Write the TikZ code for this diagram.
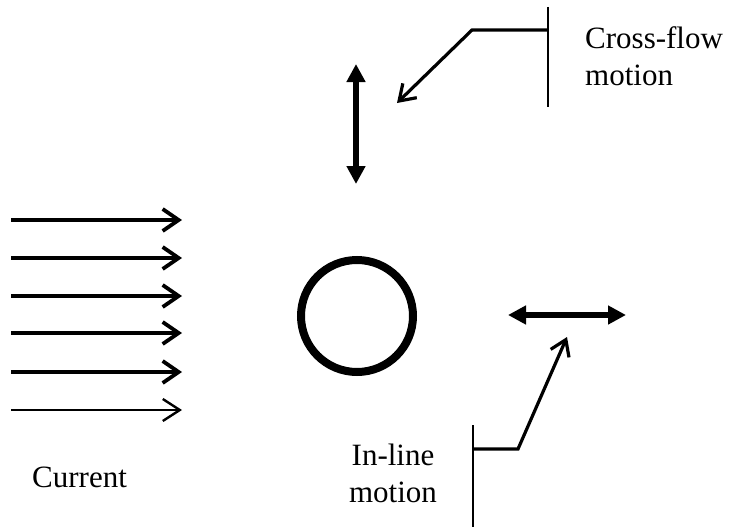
\documentclass[tikz,border=0pt]{standalone}
\usepackage{fontspec}
\setmainfont{Liberation Serif}
\usetikzlibrary{arrows.meta}
\begin{document}
\begin{tikzpicture}[x=1pt,y=-1pt,
  flow/.style={line width=3.8pt,-{Straight Barb[length=16pt,width=22pt]}},
  thinflow/.style={line width=2.4pt,-{Straight Barb[length=17pt,width=22pt]}},
  leader/.style={line width=3.2pt,line join=miter,-{Straight Barb[length=15pt,width=20pt]}},
  tick/.style={line width=2.2pt},
  motionarrow/.style={line width=5.5pt,{Triangle[length=18pt,width=18pt]}-{Triangle[length=18pt,width=18pt]}},
  lbl/.style={font=\fontsize{31}{37}\selectfont,inner sep=0pt}]
\useasboundingbox (0,0) rectangle (730,527);
% current arrows
\foreach \i/\y in {1/220,2/258,3/296,4/333,5/372}{
  \coordinate (cs\i) at (11,\y);
  \coordinate (ce\i) at (182,\y);
  \draw[flow] (cs\i) -- (ce\i);
}
\coordinate (cs6) at (11,410);
\coordinate (ce6) at (182,410);
\draw[thinflow] (cs6) -- (ce6);
\node[lbl,anchor=north west] (current) at (32,467) {Current};
% cylinder
\node[circle,draw,line width=8pt,minimum size=112pt,inner sep=0pt] (cyl) at (357,316) {};
% cross-flow motion arrow
\coordinate (vt) at (356,64);
\coordinate (vb) at (356,184);
\draw[motionarrow] (vt) -- (vb);
% in-line motion arrow
\coordinate (hl) at (508,315);
\coordinate (hr) at (626,315);
\draw[motionarrow] (hl) -- (hr);
% cross-flow leader
\coordinate (cfTop) at (548,7);
\coordinate (cfBot) at (548,107);
\coordinate (cfJ) at (548,30);
\coordinate (cfK) at (472,30);
\coordinate (cfTip) at (397,103);
\draw[tick] (cfTop) -- (cfBot);
\draw[leader] (cfJ) -- (cfK) -- (cfTip);
\node[lbl,anchor=north west,align=left] (cflabel) at (585,26) {Cross-flow\\motion};
% in-line leader
\coordinate (ilTop) at (473,425);
\coordinate (ilBot) at (473,527);
\coordinate (ilJ) at (473,449);
\coordinate (ilK) at (518,449);
\coordinate (ilTip) at (567,337);
\draw[tick] (ilTop) -- (ilBot);
\draw[leader] (ilJ) -- (ilK) -- (ilTip);
\node[lbl,anchor=north,align=center] (illabel) at (393,444) {In-line\\motion};
\end{tikzpicture}
\end{document}
